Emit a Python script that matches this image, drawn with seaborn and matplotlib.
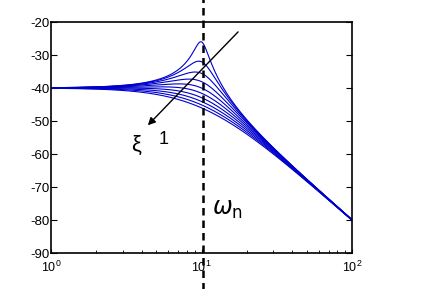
import numpy as np
import pandas as pd
import matplotlib
matplotlib.use("Agg")
import matplotlib.pyplot as plt
import seaborn as sns

# Parameters
natural_freq = 10.0                                   # omega_n
damping_ratios = [0.1, 0.2, 0.3, 0.4, 0.5, 0.6, 0.7, 0.8, 0.9, 1.0]
x_ticks = [1, 10, 100]
y_ticks = [-90, -80, -70, -60, -50, -40, -30, -20]

w = np.logspace(0, 2, 500)
rows = []
for z in damping_ratios:
    h = 1.0 / ((1j * w) ** 2 + 2 * z * natural_freq * (1j * w) + natural_freq ** 2)
    mag = 20 * np.log10(np.abs(h))
    rows.append(pd.DataFrame({"w": w, "mag": mag, "zeta": z}))
df = pd.concat(rows, ignore_index=True)

sns.set_style("white")
plt.rcParams["font.family"] = ["Liberation Sans", "DejaVu Sans"]
plt.rcParams["mathtext.fontset"] = "dejavusans"

fig = plt.figure(figsize=(4.37, 2.89), dpi=100)
ax = fig.add_axes([51 / 437, 1 - 253 / 289, (352 - 51) / 437, (253 - 22) / 289])

sns.lineplot(data=df, x="w", y="mag", hue="zeta",
             palette=["#0000cc"] * len(damping_ratios),
             legend=False, linewidth=0.8, ax=ax)

ax.set_xscale("log")
ax.set_xlim(1, 100)
ax.set_ylim(-90, -20)
ax.set_yticks(y_ticks)
ax.set_yticklabels([str(v) for v in y_ticks])
ax.set_xticks(x_ticks)
ax.set_xlabel("")
ax.set_ylabel("")
for s in ax.spines.values():
    s.set_color("black")
    s.set_linewidth(1.2)
ax.tick_params(axis="both", which="both", direction="in", colors="black",
               labelsize=9.5, right=True, top=False, bottom=True, left=True)
ax.tick_params(axis="y", which="major", length=4, pad=1)
ax.tick_params(axis="x", which="major", length=3, pad=5, labelsize=9)
ax.tick_params(axis="x", which="minor", length=2)

# Dashed vertical line at omega_n, spanning the whole figure
ax.axvline(natural_freq * 1.02, ymin=-0.2, ymax=1.2, color="black",
           linestyle=(0, (3, 2)), linewidth=1.8, clip_on=False)

# Arrow showing increasing damping
ax.annotate("", xy=(4.4, -51.3), xytext=(17.5, -23.0),
            arrowprops=dict(arrowstyle="-|>", color="black", lw=1.0,
                            mutation_scale=11, shrinkA=0, shrinkB=0))
ax.text(3.65, -57.5, "ξ", fontsize=16, ha="center", va="center", color="black")
ax.text(5.6, -55.5, "1", fontsize=13, ha="center", va="center", color="black")
ax.text(14.8, -77.0, r"$\omega_{\mathrm{n}}$", fontsize=17, ha="center", va="center",
        color="black")

fig.savefig("out.png", dpi=100, facecolor="white")
